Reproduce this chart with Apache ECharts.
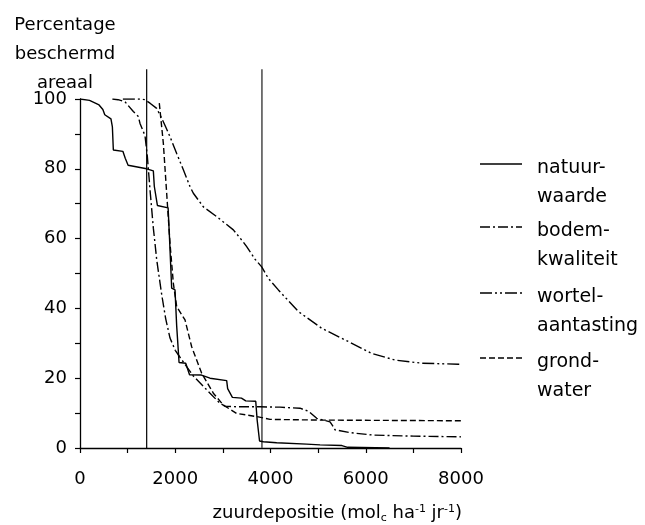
<!DOCTYPE html>
<html>
<head>
<meta charset="utf-8">
<script src="https://cdn.jsdelivr.net/npm/echarts@6/dist/echarts.min.js"></script>
<style>
html,body{margin:0;padding:0;background:#fff;}
#chart{width:645px;height:525px;}
</style>
</head>
<body>
<div id="chart"></div>
<script>
// ---- data (x = zuurdepositie, y = percentage) ----
const natuurwaarde = [
  [0,100],[200,99.6],[400,98.3],[480,97],[520,95.5],[650,94.3],[680,92],[700,85.4],[900,85],
  [950,83],[1010,81],[1400,80],[1540,79.4],[1560,75],[1625,69.5],[1850,68.8],[1880,60],
  [1925,45.8],[1995,45.3],[2030,35],[2080,24.5],[2220,24.3],[2300,21],[2550,20.9],[2730,20],
  [3080,19.3],[3100,17],[3200,14.5],[3390,14.3],[3480,13.5],[3690,13.4],[3720,8],[3770,2],
  [3850,1.8],[4130,1.5],[4760,1.1],[5040,0.9],[5500,0.7],[5620,0.2],[6500,0]
];
const bodemkwaliteit = [
  [680,100],[800,99.8],[945,99.2],[1120,96.4],[1225,95],[1260,93],[1365,89.5],[1415,83.4],
  [1470,74],[1540,63],[1575,58.6],[1610,54],[1715,44],[1800,37],[1890,31.5],[2000,28],
  [2100,26],[2380,20.6],[2730,15.7],[2940,12.8],[3045,12],[3300,11.8],[3780,11.8],[4200,11.7],
  [4620,11.4],[4800,10.5],[4970,8.5],[5250,7.5],[5300,6.5],[5355,5.2],[5670,4.4],[6160,3.7],
  [7000,3.4],[8000,3.2]
];
const wortelaantasting = [
  [900,100],[1260,100],[1365,99.8],[1470,98.8],[1610,97.3],[1715,94.5],[1800,92],[1890,89.2],
  [2030,84.4],[2170,79.7],[2310,74.9],[2380,73],[2590,69.1],[2870,66.3],[3220,62.5],[3430,59],
  [3500,57.7],[3675,54.1],[3815,51.9],[3955,48.6],[4165,45.3],[4585,39.1],[5075,34.3],
  [5635,30.5],[6125,27.1],[6615,25.2],[7175,24.3],[7945,24],[8000,24]
];
const grondwater = [
  [1665,98.8],[1680,96.8],[1750,87.3],[1820,73],[1890,58.6],[1960,47.2],[2030,40.5],
  [2205,36.7],[2345,29],[2555,21.4],[2800,15.7],[3010,12.3],[3290,9.9],[3710,9],[3990,8.2],
  [5040,8],[8000,7.8]
];
const markerLine1 = [[1400,0],[1400,108.5]];
const markerLine2 = [[3820,0],[3820,108.5]];
const legendLabels = ['natuur-\nwaarde','bodem-\nkwaliteit','wortel-\naantasting','grond-\nwater'];
const xTicks = [0,2000,4000,6000,8000];
const yTicks = [0,20,40,60,80,100];

const dashBodem = [10,3,2,3];
const dashWortel = [12,3,2,3,2,3];
const dashGrond = [6,3];
const dashes = [null, dashBodem, dashWortel, dashGrond];

const FONT = '"DejaVu Sans", sans-serif';

function lineSeries(name, data, dash){
  return {
    name, type:'line', data, symbol:'none', smooth:false, animation:false,
    lineStyle:{color:'#000', width:1.4, type: dash ? dash : 'solid'}
  };
}

const chart = echarts.init(document.getElementById('chart'), null, {renderer:'canvas'});

const legendY = [164, 227, 293, 358];
const graphics = [];
legendLabels.forEach((lab,i)=>{
  graphics.push({
    type:'line', shape:{x1:480,y1:legendY[i],x2:522,y2:legendY[i]},
    style:{stroke:'#000', lineWidth:1.4, lineDash: dashes[i] || null}
  });
  graphics.push({
    type:'text', x:537, y:legendY[i]-10,
    style:{text:lab, font:'19px '+FONT, fill:'#000', lineHeight:29, align:'left', verticalAlign:'top'}
  });
});
graphics.push({
  type:'text', x:65, y:11,
  style:{text:'Percentage\nbeschermd\nareaal', font:'18px '+FONT, fill:'#000', lineHeight:29, align:'center', verticalAlign:'top'}
});
graphics.push({
  type:'text', x:462, y:502,
  style:{
    text:'zuurdepositie (mol{sub|c} ha{sup|-1} jr{sup|-1})',
    font:'18px '+FONT, fill:'#000', align:'right', verticalAlign:'top',
    rich:{
      sub:{font:'11px '+FONT, fill:'#000', padding:[11,0,0,0]},
      sup:{font:'11px '+FONT, fill:'#000', padding:[0,0,8,0]}
    }
  }
});

chart.setOption({
  animation:false,
  backgroundColor:'#fff',
  grid:{left:80, right:184, top:99, bottom:77, containLabel:false},
  xAxis:{
    type:'value', min:0, max:8000, interval:2000,
    axisLine:{show:true, onZero:false, lineStyle:{color:'#000', width:1.3}},
    axisTick:{show:true, length:5, lineStyle:{color:'#000', width:1.2}},
    minorTick:{show:true, splitNumber:2, length:5, lineStyle:{color:'#000', width:1.2}},
    splitLine:{show:false},
    axisLabel:{color:'#000', fontSize:18, fontFamily:FONT, margin:22,
      formatter:(v)=> xTicks.includes(v) ? String(v) : ''}
  },
  yAxis:{
    type:'value', min:0, max:100, interval:20,
    axisLine:{show:true, onZero:false, lineStyle:{color:'#000', width:1.3}},
    axisTick:{show:true, length:5, lineStyle:{color:'#000', width:1.2}},
    minorTick:{show:true, splitNumber:2, length:5, lineStyle:{color:'#000', width:1.2}},
    splitLine:{show:false},
    axisLabel:{color:'#000', fontSize:18, fontFamily:FONT, margin:13,
      formatter:(v)=> yTicks.includes(v) ? String(v) : ''}
  },
  graphic: graphics,
  series:[
    {type:'line', data:markerLine1, symbol:'none', clip:false, animation:false, silent:true,
      lineStyle:{color:'#000', width:1.2}},
    {type:'line', data:markerLine2, symbol:'none', clip:false, animation:false, silent:true,
      lineStyle:{color:'#555', width:1.6}},
    lineSeries('natuurwaarde', natuurwaarde, null),
    lineSeries('bodemkwaliteit', bodemkwaliteit, dashBodem),
    lineSeries('wortelaantasting', wortelaantasting, dashWortel),
    lineSeries('grondwater', grondwater, dashGrond)
  ]
});
</script>
</body>
</html>
